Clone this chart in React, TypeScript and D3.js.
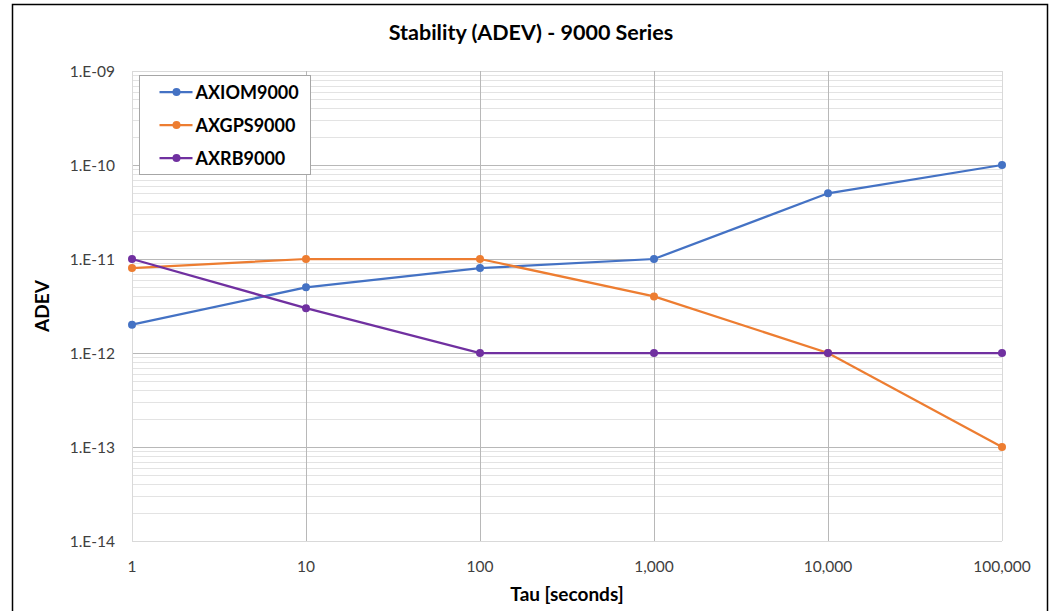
import { useEffect, useRef } from "react";
import * as d3 from "d3";

const width = 1055;
const height = 611;
const margin = { top: 71, right: 53, bottom: 70, left: 132 };

const tau = [1, 10, 100, 1000, 10000, 100000];
const xTickLabels = ["1", "10", "100", "1,000", "10,000", "100,000"];
const yTicks = [1e-14, 1e-13, 1e-12, 1e-11, 1e-10, 1e-9];
const yTickLabels = ["1.E-14", "1.E-13", "1.E-12", "1.E-11", "1.E-10", "1.E-09"];

const axiom9000 = [2e-12, 5e-12, 8e-12, 1e-11, 5e-11, 1e-10];
const axgps9000 = [8e-12, 1e-11, 1e-11, 4e-12, 1e-12, 1e-13];
const axrb9000 = [1e-11, 3e-12, 1e-12, 1e-12, 1e-12, 1e-12];

const seriesNames = ["AXIOM9000", "AXGPS9000", "AXRB9000"];
const seriesColors = ["#4472C4", "#ED7D31", "#7030A0"];

const font = "Lato, 'Open Sans', sans-serif";

const App = () => {
  const svgRef = useRef<SVGSVGElement>(null);

  useEffect(() => {
    const svg = d3.select(svgRef.current);
    svg.selectAll("*").remove();

    const x = d3
      .scaleLog()
      .domain([1, 100000])
      .range([margin.left, width - margin.right]);
    const y = d3
      .scaleLog()
      .domain([1e-14, 1e-9])
      .range([height - margin.bottom, margin.top]);

    // outer border
    svg
      .append("rect")
      .attr("x", 12.5)
      .attr("y", 4.5)
      .attr("width", 1035)
      .attr("height", 620)
      .attr("fill", "#fff")
      .attr("stroke", "#000")
      .attr("stroke-width", 1.5);

    // minor horizontal grid
    const minorY: number[] = [];
    for (let e = -14; e < -9; e++) {
      for (let m = 2; m <= 9; m++) minorY.push(m * Math.pow(10, e));
    }
    svg
      .append("g")
      .selectAll("line")
      .data(minorY)
      .join("line")
      .attr("x1", margin.left)
      .attr("x2", width - margin.right)
      .attr("y1", (d) => Math.round(y(d)) + 0.5)
      .attr("y2", (d) => Math.round(y(d)) + 0.5)
      .attr("stroke", "#e3e3e3")
      .attr("stroke-width", 1);

    // major grid
    svg
      .append("g")
      .selectAll("line")
      .data(yTicks)
      .join("line")
      .attr("x1", margin.left)
      .attr("x2", width - margin.right)
      .attr("y1", (d) => Math.round(y(d)) + 0.5)
      .attr("y2", (d) => Math.round(y(d)) + 0.5)
      .attr("stroke", (d, i) => (i === 0 || i === yTicks.length - 1 ? "#d9d9d9" : "#b8b8b8"))
      .attr("stroke-width", 1);
    svg
      .append("g")
      .selectAll("line")
      .data(tau)
      .join("line")
      .attr("x1", (d) => Math.round(x(d)) + 0.5)
      .attr("x2", (d) => Math.round(x(d)) + 0.5)
      .attr("y1", margin.top)
      .attr("y2", height - margin.bottom)
      .attr("stroke", (d, i) => (i === 0 || i === tau.length - 1 ? "#d9d9d9" : "#b8b8b8"))
      .attr("stroke-width", 1);

    // tick labels
    svg
      .append("g")
      .selectAll("text")
      .data(yTicks)
      .join("text")
      .attr("x", margin.left - 17)
      .attr("y", (d) => y(d) + 5.5)
      .attr("text-anchor", "end")
      .attr("font-family", font)
      .attr("font-size", 15.5)
      .attr("fill", "#404040")
      .text((_, i) => yTickLabels[i]);
    svg
      .append("g")
      .selectAll("text")
      .data(tau)
      .join("text")
      .attr("x", (d) => x(d))
      .attr("y", height - margin.bottom + 31)
      .attr("text-anchor", "middle")
      .attr("font-family", font)
      .attr("font-size", 15.5)
      .attr("fill", "#404040")
      .text((_, i) => xTickLabels[i]);

    // titles
    svg
      .append("text")
      .attr("x", 531)
      .attr("y", 40)
      .attr("text-anchor", "middle")
      .attr("font-family", font)
      .attr("font-weight", "bold")
      .attr("font-size", 21.5)
      .attr("fill", "#000")
      .text("Stability (ADEV) - 9000 Series");
    svg
      .append("text")
      .attr("x", 567)
      .attr("y", 601)
      .attr("text-anchor", "middle")
      .attr("font-family", font)
      .attr("font-weight", "bold")
      .attr("font-size", 19)
      .attr("fill", "#000")
      .text("Tau [seconds]");
    svg
      .append("text")
      .attr("transform", `translate(49, 306) rotate(-90)`)
      .attr("text-anchor", "middle")
      .attr("font-family", font)
      .attr("font-weight", "bold")
      .attr("font-size", 19)
      .attr("fill", "#000")
      .text("ADEV");

    // series
    const allSeries = [axiom9000, axgps9000, axrb9000];
    const line = d3
      .line<number>()
      .x((_, i) => x(tau[i]))
      .y((d) => y(d));

    allSeries.forEach((vals, s) => {
      const g = svg.append("g");
      g.append("path")
        .datum(vals)
        .attr("fill", "none")
        .attr("stroke", seriesColors[s])
        .attr("stroke-width", 2.25)
        .attr("d", line);
      g.selectAll("circle")
        .data(vals)
        .join("circle")
        .attr("cx", (_, i) => x(tau[i]))
        .attr("cy", (d) => y(d))
        .attr("r", 4)
        .attr("fill", seriesColors[s]);
    });

    // legend
    const legend = svg.append("g").attr("transform", "translate(139.5, 75.5)");
    legend
      .append("rect")
      .attr("width", 171)
      .attr("height", 99)
      .attr("fill", "#fff")
      .attr("stroke", "#a6a6a6")
      .attr("stroke-width", 1);
    seriesNames.forEach((name, i) => {
      const cy = 16.5 + i * 33;
      legend
        .append("line")
        .attr("x1", 20)
        .attr("x2", 53)
        .attr("y1", cy)
        .attr("y2", cy)
        .attr("stroke", seriesColors[i])
        .attr("stroke-width", 2.25);
      legend
        .append("circle")
        .attr("cx", 37)
        .attr("cy", cy)
        .attr("r", 4)
        .attr("fill", seriesColors[i]);
      legend
        .append("text")
        .attr("x", 56)
        .attr("y", cy + 6.5)
        .attr("font-family", font)
        .attr("font-weight", "bold")
        .attr("font-size", 18)
        .attr("fill", "#000")
        .text(name);
    });
  }, []);

  return (
    <svg
      ref={svgRef}
      width={width}
      height={height}
      style={{ position: "absolute", left: 0, top: 0 }}
    ></svg>
  );
};

export default App;
